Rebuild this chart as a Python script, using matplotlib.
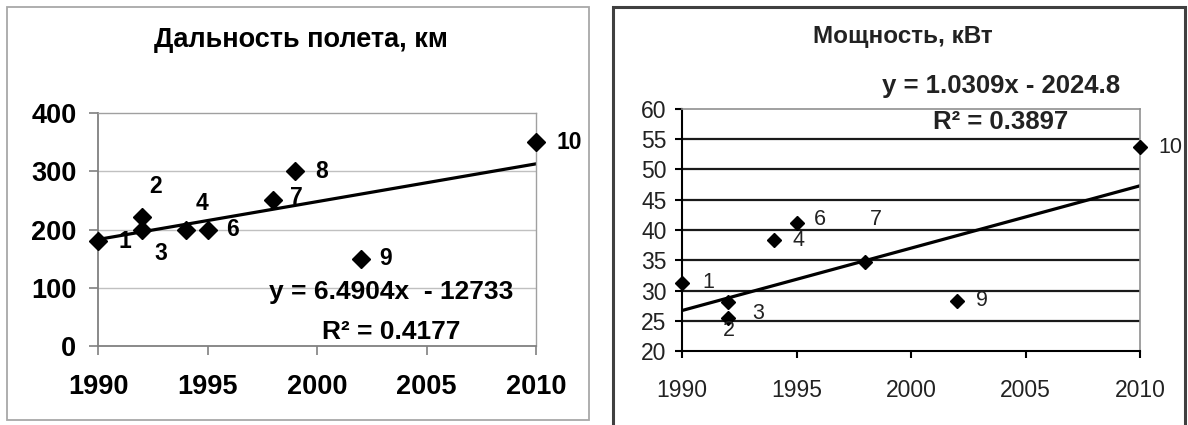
import matplotlib.pyplot as plt
from matplotlib.patches import Rectangle

plt.rcParams['font.family'] = ['Liberation Sans', 'DejaVu Sans']

# Flight range, km
range_years = [1990, 1992, 1992, 1994, 1995, 1998, 1999, 2002, 2010]
range_km = [180, 222, 200, 200, 200, 250, 300, 150, 350]
range_ids = ['1', '2', '3', '4', '6', '7', '8', '9', '10']
range_slope, range_icpt, range_r2 = 6.4904, -12733, 0.4177

# Power, kW
power_years = [1990, 1992, 1992, 1994, 1995, 1998, 2002, 2010]
power_kw = [31.3, 25.5, 28.1, 38.3, 41.2, 34.7, 28.3, 53.7]
power_ids = ['1', '2', '3', '4', '6', '7', '9', '10']
power_slope, power_icpt, power_r2 = 1.0309, -2024.8, 0.3897

year_ticks = [1990, 1995, 2000, 2005, 2010]
range_ticks = [0, 100, 200, 300, 400]
power_ticks = [20, 25, 30, 35, 40, 45, 50, 55, 60]

# label offsets in points (dx, dy)
range_offsets = [(19, 0), (10, 22), (14, -17), (12, 19), (18, 0), (17, 2), (19, 0), (18, 0), (24, 0)]
power_offsets = [(19, 0), (1, -9), (22, -8), (18, 0), (17, 2), (8, 31), (18, 0), (22, 0)]

W, H = 1188, 425
fig = plt.figure(figsize=(W / 100, H / 100), dpi=100)
fig.patch.set_facecolor('white')


def px_box(x0, y0, x1, y1):
    return [x0 / W, 1 - y1 / H, (x1 - x0) / W, (y1 - y0) / H]


# panel frames
fig.add_artist(Rectangle((7 / W, 1 - 420 / H), 582 / W, 413 / H, transform=fig.transFigure,
                         fill=False, ec='#a8a8a8', lw=1.3))
fig.add_artist(Rectangle((613 / W, -0.05), 572 / W, 1.05 - 7 / H, transform=fig.transFigure,
                         fill=False, ec='#404040', lw=2.2))

# ---- left: flight range ----
ax1 = fig.add_axes(px_box(98, 113, 536, 346))
ax1.set_xlim(1990, 2010)
ax1.set_ylim(0, 400)
ax1.set_xticks(year_ticks)
ax1.set_yticks(range_ticks)
for t in range_ticks[1:-1]:
    ax1.axhline(t, color='#c0c0c0', lw=1.0, zorder=0)
for side in ['top', 'right']:
    ax1.spines[side].set_color('#a0a0a0')
    ax1.spines[side].set_linewidth(1.0)
for side in ['left', 'bottom']:
    ax1.spines[side].set_color('#808080')
    ax1.spines[side].set_linewidth(1.3)
ax1.tick_params(axis='both', direction='out', length=6.5, width=1.2, color='#808080',
                labelsize=19.5)
ax1.tick_params(axis='x', pad=14)
ax1.tick_params(axis='y', pad=9)
for lbl in ax1.get_xticklabels() + ax1.get_yticklabels():
    lbl.set_fontweight('bold')

ax1.plot([1990, 2010], [range_slope * 1990 + range_icpt, range_slope * 2010 + range_icpt],
         color='black', lw=2.3, zorder=2)
ax1.plot(range_years, range_km, 'D', color='black', ms=9, zorder=3, clip_on=False)
for x, y, s, off in zip(range_years, range_km, range_ids, range_offsets):
    ax1.annotate(s, (x, y), xytext=off, textcoords='offset points', ha='center', va='center',
                 fontsize=16.5, fontweight='bold', annotation_clip=False)
ax1.text(2003.4, 93, f'y = {range_slope}x  - {abs(range_icpt)}', ha='center', va='center',
         fontsize=19, fontweight='bold')
ax1.text(2003.4, 24, f'R² = {range_r2}', ha='center', va='center',
         fontsize=19, fontweight='bold')
fig.text(301 / W, 1 - 40 / H, 'Дальность полета, км', ha='center', va='center',
         fontsize=19.5, fontweight='bold')

# ---- right: power ----
ax2 = fig.add_axes(px_box(682, 109, 1140, 351))
ax2.set_xlim(1990, 2010)
ax2.set_ylim(20, 60)
ax2.set_xticks(year_ticks)
ax2.set_yticks(power_ticks)
for t in power_ticks[1:-1]:
    ax2.axhline(t, color='#1a1a1a', lw=1.6, zorder=0)
for side in ['top', 'right']:
    ax2.spines[side].set_color('#909090')
    ax2.spines[side].set_linewidth(1.2)
for side in ['left', 'bottom']:
    ax2.spines[side].set_color('black')
    ax2.spines[side].set_linewidth(1.5)
ax2.tick_params(axis='both', direction='out', length=5, width=1.5, color='black',
                labelsize=16.5, labelcolor='#222222')
ax2.tick_params(axis='x', pad=15)
ax2.tick_params(axis='y', pad=6)

ax2.plot([1990, 2010], [power_slope * 1990 + power_icpt, power_slope * 2010 + power_icpt],
         color='black', lw=2.3, zorder=2)
ax2.plot(power_years, power_kw, 'D', color='black', ms=7.5, zorder=3, clip_on=False)
for x, y, s, off in zip(power_years, power_kw, power_ids, power_offsets):
    ax2.annotate(s, (x, y), xytext=off, textcoords='offset points', ha='center', va='center',
                 fontsize=15.5, color='#222222', annotation_clip=False)
ax2.text(2003.93, 63.8, f'y = {power_slope}x - {abs(power_icpt)}', ha='center', va='center',
         fontsize=18.5, fontweight='bold', color='#222222', clip_on=False)
ax2.text(2003.93, 57.85, f'R² = {power_r2}', ha='center', va='center',
         fontsize=18.5, fontweight='bold', color='#222222')
fig.text(903 / W, 1 - 37 / H, 'Мощность, кВт', ha='center', va='center',
         fontsize=17.5, fontweight='bold', color='#222222')

fig.savefig('out.png', dpi=100)
